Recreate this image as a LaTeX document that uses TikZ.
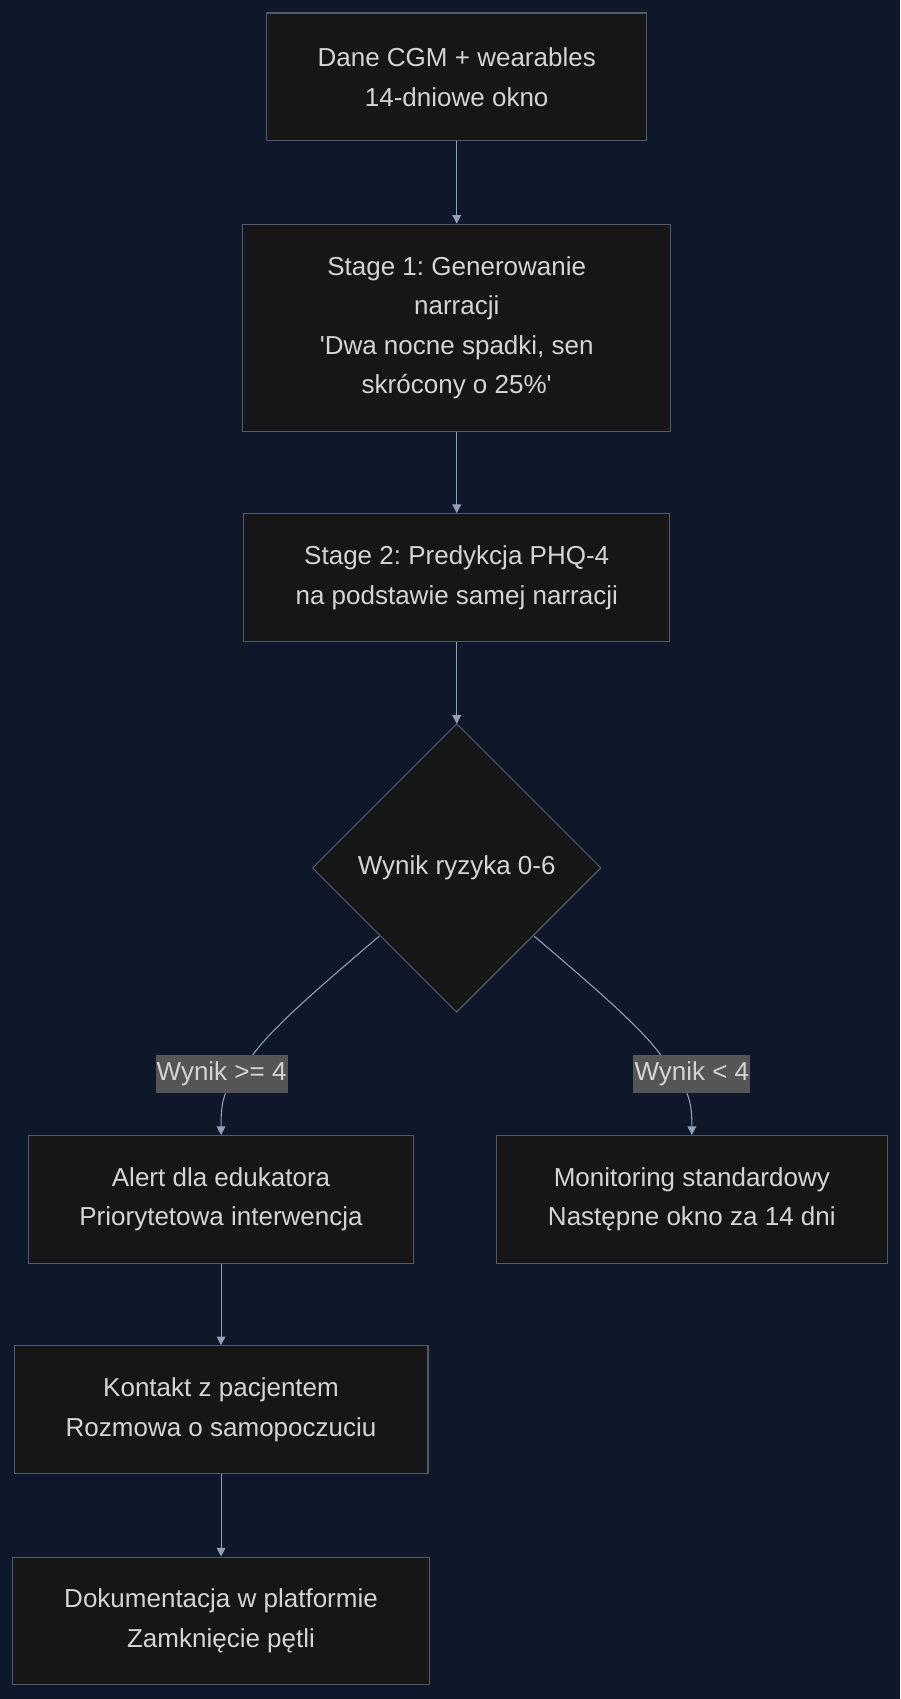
\documentclass[tikz,border=0pt]{standalone}
\usepackage{fontspec}
\setmainfont{Liberation Sans}
\frenchspacing
\usetikzlibrary{arrows.meta,shapes.geometric}
\definecolor{bg}{HTML}{0F172A}
\definecolor{nodefill}{HTML}{161616}
\definecolor{nodeline}{HTML}{4F5A6B}
\definecolor{txt}{HTML}{D4D4D4}
\definecolor{edge}{HTML}{8FA0B8}
\definecolor{lblbg}{HTML}{555555}
\begin{document}
\begin{tikzpicture}[x=1pt,y=-1pt,
  box/.style={draw=nodeline,fill=nodefill,text=txt,line width=1pt,align=center,font=\fontsize{24}{36.5}\selectfont,inner sep=0pt},
  lbl/.style={fill=lblbg,text=txt,font=\fontsize{24}{26}\selectfont,inner sep=1pt,minimum height=35pt},
  conn/.style={draw=edge,line width=1pt,-{Triangle[width=8pt,length=8pt]}}]
\fill[bg] (0,0) rectangle (831,1568);
\useasboundingbox (0,0) rectangle (831,1568);
\node[box,minimum width=351pt,minimum height=118pt] (A) at (421.5,71) {Dane CGM + wearables\\14-dniowe okno};
\node[box,minimum width=395pt,minimum height=191pt] (B) at (421.5,302.5) {Stage 1: Generowanie\\narracji\\\textquotesingle Dwa nocne spadki, sen\\skrócony o 25\%\textquotesingle};
\node[box,minimum width=393pt,minimum height=118pt] (C) at (421.5,533) {Stage 2: Predykcja PHQ-4\\na podstawie samej narracji};
\draw[draw=nodeline,fill=nodefill,line width=1pt] (421.5,668) -- (554.5,801) -- (421.5,934) -- (288.5,801) -- cycle;
\node[text=txt,font=\fontsize{24}{36}\selectfont] (D) at (421.5,801) {Wynik ryzyka 0-6};
\coordinate (Dtop) at (421.5,668);
\coordinate (DL) at (350,864);
\coordinate (DR) at (493,864);
\node[box,minimum width=356pt,minimum height=118pt] (E) at (204,1107) {Alert dla edukatora\\Priorytetowa interwencja};
\node[box,minimum width=361pt,minimum height=118pt] (F) at (638.5,1107) {Monitoring standardowy\\Następne okno za 14 dni};
\node[box,minimum width=382pt,minimum height=118pt] (G) at (204,1301) {Kontakt z pacjentem\\Rozmowa o samopoczuciu};
\node[box,minimum width=385pt,minimum height=118pt] (H) at (204,1496) {Dokumentacja w platformie\\Zamknięcie pętli};
\draw[conn] (A) -- (B);
\draw[conn] (B) -- (C);
\draw[conn] (C) -- (Dtop);
\draw[draw=edge,line width=1pt] (DL) .. controls (290,915) and (250,950) .. (233,974);
\draw[conn] (208,1009) .. controls (204,1020) and (204,1030) .. (E.north);
\draw[draw=edge,line width=1pt] (DR) .. controls (553,915) and (593,950) .. (610,974);
\draw[conn] (634,1009) .. controls (638.5,1020) and (638.5,1030) .. (F.north);
\node[lbl,minimum width=121pt] (L1) at (204.5,991) {Wynik >= 4};
\node[lbl,minimum width=107pt] (L2) at (638.5,991) {Wynik < 4};
\draw[conn] (E) -- (G);
\draw[conn] (G) -- (H);
\end{tikzpicture}
\end{document}
